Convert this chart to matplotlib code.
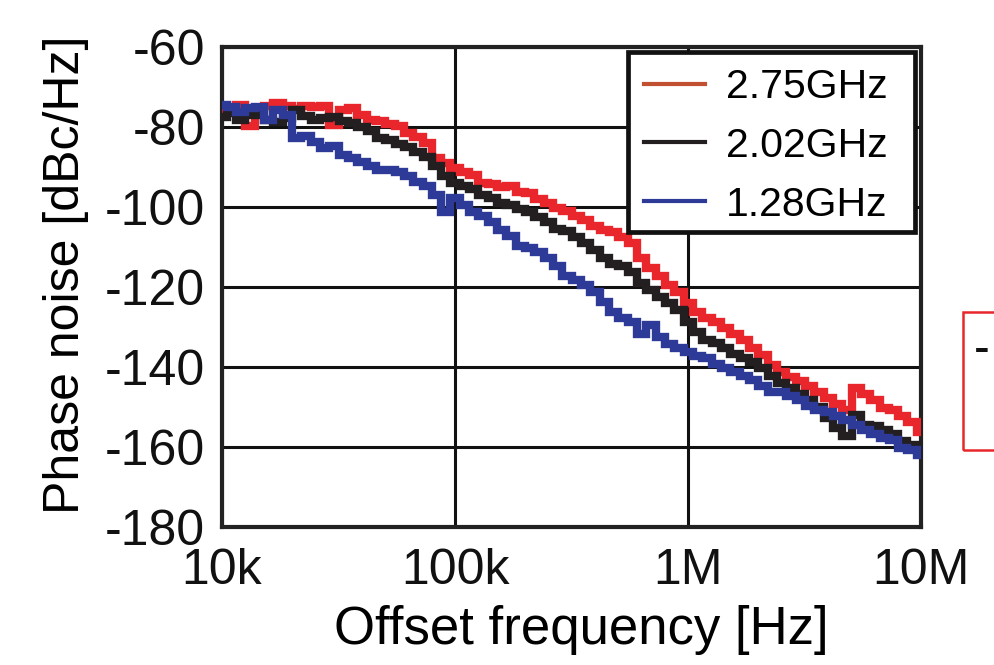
import matplotlib
matplotlib.use("Agg")
import matplotlib.pyplot as plt
from matplotlib.lines import Line2D
from matplotlib.patches import Rectangle
from matplotlib.ticker import FixedLocator, NullLocator, FixedFormatter

plt.rcParams['font.family'] = ['Liberation Sans', 'DejaVu Sans']
plt.rcParams['axes.unicode_minus'] = False

# offset frequency [kHz], shared by the three traces
freq_khz = [10.0, 10.96, 12.02, 13.18, 14.45, 15.85, 17.38, 19.05, 20.89, 22.91,
            25.12, 27.54, 30.20, 33.11, 36.31, 39.81, 43.65, 47.86, 52.48, 57.54,
            63.10, 69.18, 75.86, 83.18, 91.20, 100.0, 109.6, 120.2, 131.8, 144.5,
            158.5, 173.8, 190.5, 208.9, 229.1, 251.2, 275.4, 302.0, 331.1, 363.1,
            398.1, 436.5, 478.6, 524.8, 575.4, 631.0, 691.8, 758.6, 831.8, 912.0,
            1000, 1096, 1202, 1318, 1445, 1585, 1738, 1905, 2089, 2291,
            2512, 2754, 3020, 3311, 3631, 3981, 4365, 4786, 5248, 5754,
            6310, 6918, 7586, 8318, 9120, 10000]

pn_275 = [-76.5, -75.75, -74.5, -79.75, -75.25, -74.75, -74, -74.75, -75.5, -74.75,
          -75, -74.75, -79.5, -75.75, -75.25, -77, -78.25, -78.5, -79.25, -79.75,
          -81.5, -82.5, -84, -87.75, -89, -90.25, -91.25, -92, -94, -94.25,
          -95, -94.75, -96.25, -96.5, -98, -99, -100.25, -101, -102.25, -103.25,
          -104.75, -105.75, -106.25, -107.5, -109, -112.75, -115.25, -117.25, -119.5, -121.25,
          -124, -126.25, -127.75, -128.75, -130.25, -131.75, -133.25, -135.25, -137, -139.5,
          -141.25, -142.5, -143.5, -144.75, -146.25, -147.75, -149.25, -150.75, -145.25, -146.75,
          -148.25, -150.25, -150.75, -152.25, -153.75, -156.25]

pn_202 = [-77.5, -76.5, -78.25, -77, -77, -78.25, -78.75, -77.75, -75.75, -77.25,
          -78.25, -77.75, -77.5, -78.5, -79, -80, -81, -82.75, -83.25, -84.25,
          -85, -86.25, -87.5, -89.75, -92.25, -94, -94.75, -95.5, -97, -97.75,
          -99, -99.5, -100.5, -101.25, -102.5, -103.75, -105.5, -106, -107.5, -109,
          -110.75, -112.75, -114.25, -114.75, -116.25, -119, -120.75, -122.5, -124, -125.75,
          -128.75, -131.25, -133.25, -134, -135.25, -136.75, -137.75, -138.75, -140.25, -142.25,
          -144, -145.25, -146.75, -148.25, -150, -152.75, -155.25, -157.25, -152, -154.5,
          -154.75, -155.75, -156.75, -158.5, -159.5, -160]

pn_128 = [-74.5, -75, -76.25, -75.25, -75, -78.25, -75.75, -77, -82.75, -82.25,
          -83.75, -85.25, -84.75, -87, -87.75, -88.75, -89.75, -90.75, -90.75, -91.25,
          -92.25, -93.75, -94.75, -97, -101.25, -97.75, -99.5, -101.25, -102.25, -103.75,
          -105.75, -107.25, -109.75, -110.25, -111.25, -112.75, -114.75, -117.25, -118.25, -119.5,
          -121.25, -123.75, -126.25, -127.75, -128.75, -131.75, -129.5, -132.5, -134.25, -135.25,
          -136.25, -137.25, -137.75, -139.25, -140.25, -141.25, -142.25, -143.25, -144.75, -146.25,
          -146.25, -147.25, -148.25, -149.75, -150.75, -151.25, -152.25, -153.25, -154.5, -155.75,
          -156.75, -157.75, -158.25, -160.25, -160.75, -162]

labels = ['2.75GHz', '2.02GHz', '1.28GHz']
x_ticks = [1e4, 1e5, 1e6, 1e7]
x_ticklabels = ['10k', '100k', '1M', '10M']
y_ticks = [-180, -160, -140, -120, -100, -80, -60]

freq_hz = [f * 1e3 for f in freq_khz]

fig = plt.figure(figsize=(9.95, 6.65), dpi=100)
ax = fig.add_axes([0.223, 0.2075, 0.703, 0.722])

line_cols = ['#e8262b', '#231f20', '#2e3a98']
for y, c in zip([pn_275, pn_202, pn_128], line_cols):
    ax.plot(freq_hz, y, color=c, lw=6.0, drawstyle='steps-mid', zorder=3,
            solid_joinstyle='miter')

ax.set_xscale('log')
ax.set_xlim(1e4, 1e7)
ax.set_ylim(-180, -60)
ax.xaxis.set_major_locator(FixedLocator(x_ticks))
ax.xaxis.set_major_formatter(FixedFormatter(x_ticklabels))
ax.xaxis.set_minor_locator(NullLocator())
ax.set_yticks(y_ticks)
ax.grid(True, color='#111111', lw=2.2)
ax.tick_params(length=0, labelsize=36, colors='#111111')
ax.tick_params(axis='x', pad=15)
ax.tick_params(axis='y', pad=12)
for s in ax.spines.values():
    s.set_linewidth(3.0)
    s.set_color('#222222')

ax.set_xlabel('Offset frequency [Hz]', fontsize=38, labelpad=8)
ax.xaxis.label.set_x(0.514)
ax.set_ylabel('Phase noise [dBc/Hz]', fontsize=36)
ax.yaxis.set_label_coords(-0.19, 0.525)

# legend box drawn on its own (wider right margin than the default frame)
ax.add_patch(Rectangle((0.581, 0.615), 0.410, 0.375, transform=ax.transAxes,
                       facecolor='white', edgecolor='#111111', lw=3.4, zorder=4))

# legend swatches use slightly different colours than the traces
leg_cols = ['#c0502f', '#231f20', '#2e3a98']
handles = [Line2D([], [], color=c, lw=3.0) for c in leg_cols]
leg = ax.legend(handles, labels, loc='center', bbox_to_anchor=(0.777, 0.794),
                borderaxespad=0, fontsize=29.5, frameon=False,
                handlelength=1.5, handletextpad=0.5, labelspacing=0.51,
                borderpad=0.2)
leg.set_zorder(5)

# partly visible annotation box on the right edge
fig.patches.append(Rectangle((0.968, 0.323), 0.1, 0.208, transform=fig.transFigure,
                             fill=False, edgecolor='#e8262b', lw=1.8))
fig.text(0.979, 0.472, '-', fontsize=34, va='center', ha='left', color='#111111')

fig.savefig('out.png', dpi=100)
